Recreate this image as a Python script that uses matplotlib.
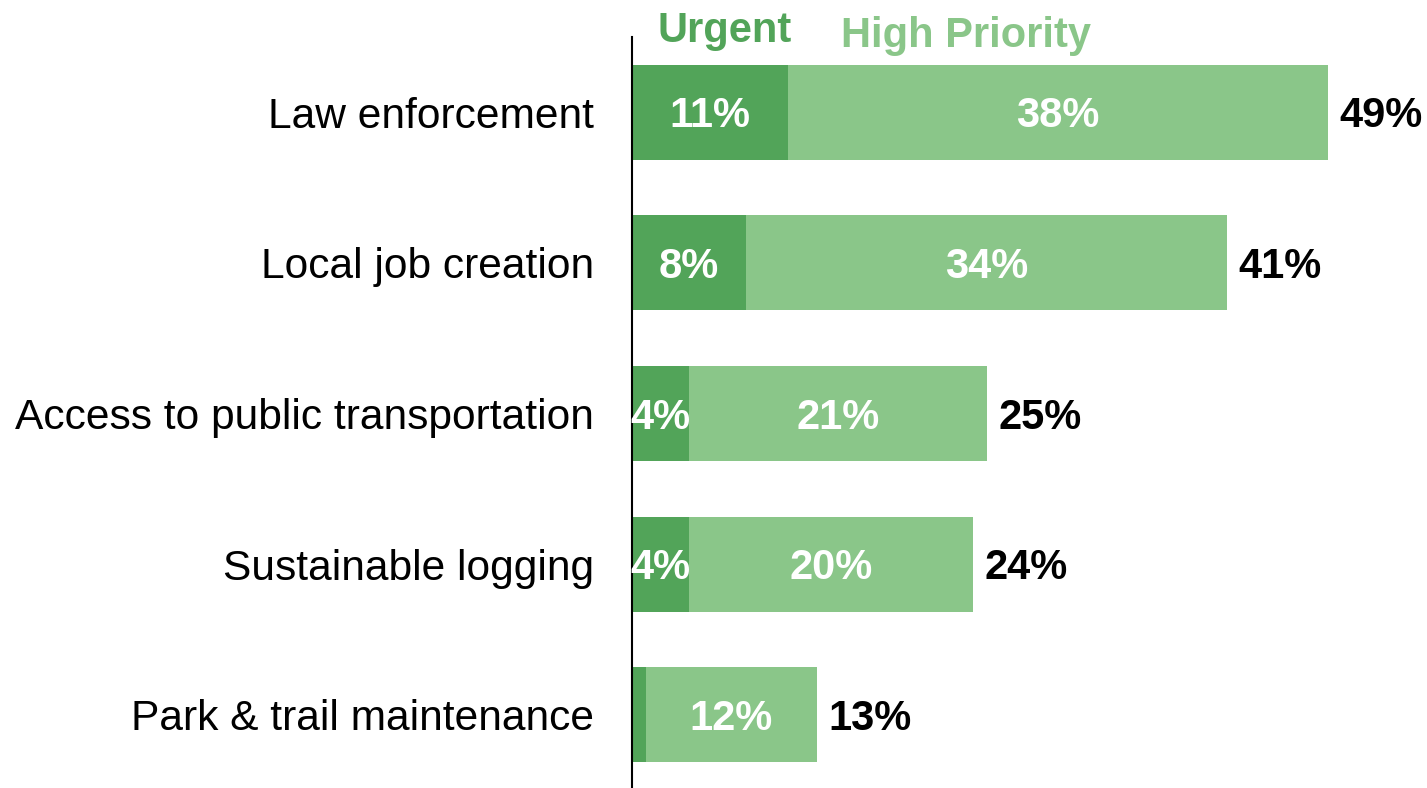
import matplotlib
matplotlib.use("Agg")
import matplotlib.pyplot as plt

categories = ["Law enforcement", "Local job creation", "Access to public transportation",
              "Sustainable logging", "Park & trail maintenance"]
urgent = [11, 8, 4, 4, 1]
high = [38, 33.9, 21, 20, 12]
urgent_labels = ["11%", "8%", "4%", "4%", ""]
high_labels = ["38%", "34%", "21%", "20%", "12%"]
total_labels = ["49%", "41%", "25%", "24%", "13%"]
series_names = ["Urgent", "High Priority"]

dark = "#52A459"
light = "#8AC689"

plt.rcParams['font.family'] = ['Liberation Sans', 'DejaVu Sans']

W, H = 1427, 788
fig = plt.figure(figsize=(W / 100, H / 100), dpi=100)
ax = fig.add_axes([632 / W, 0.0, 1 - 632 / W, (788 - 37) / H])

y = list(range(len(categories)))
ax.barh(y, urgent, height=0.63, color=dark, edgecolor="none")
ax.barh(y, high, left=urgent, height=0.63, color=light, edgecolor="none")

dy = 0.027
for i in y:
    if urgent_labels[i]:
        ax.text(urgent[i] / 2, i + dy, urgent_labels[i], ha="center", va="center",
                color="white", fontsize=30, fontweight="bold")
    ax.text(urgent[i] + high[i] / 2, i + dy, high_labels[i], ha="center", va="center",
            color="white", fontsize=30, fontweight="bold")
    ax.text(urgent[i] + high[i] + 0.8, i + dy, total_labels[i], ha="left", va="center",
            color="black", fontsize=30, fontweight="bold")

ax.set_xlim(0, (W - 632) / 14.2)
ax.set_ylim(4.487, -0.5)
ax.set_yticks(y)
ax.set_yticklabels(categories, fontsize=30.6)
ax.tick_params(axis="y", length=0, pad=27.4)
ax.set_xticks([])
for s in ["top", "right", "bottom"]:
    ax.spines[s].set_visible(False)
ax.spines["left"].set_linewidth(1.5)
ax.spines["left"].set_color("black")

ax.text(6.55, -0.54, series_names[0], ha="center", va="center", color=dark,
        fontsize=30, fontweight="bold", clip_on=False)
ax.text(23.5, -0.507, series_names[1], ha="center", va="center", color=light,
        fontsize=30, fontweight="bold", clip_on=False)

fig.savefig("out.png", dpi=100)
